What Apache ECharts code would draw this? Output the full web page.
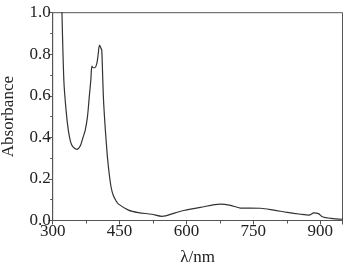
<!DOCTYPE html>
<html>
<head>
<meta charset="utf-8">
<script src="https://cdn.jsdelivr.net/npm/echarts@6/dist/echarts.min.js"></script>
<style>
html,body{margin:0;padding:0;background:#fff;}
#c{width:345px;height:267px;}
</style>
</head>
<body>
<div id="c"></div>
<script>
// Data
var wavelengths = [320, 325, 330, 335, 340, 345, 354, 362, 368, 373, 378, 382, 385.5, 388, 391, 394, 399, 402, 405, 408, 410, 412, 414, 417, 420, 423, 427, 431, 436, 442, 447, 470, 492, 522, 545, 575, 594, 631, 676, 699, 721, 766, 796, 826, 856, 875, 886, 896, 905, 924, 950];
var absorbance  = [1.08, 0.675, 0.53, 0.435, 0.38, 0.355, 0.342, 0.36, 0.40, 0.435, 0.50, 0.595, 0.675, 0.743, 0.735, 0.735, 0.756, 0.80, 0.844, 0.83, 0.82, 0.70, 0.58, 0.47, 0.38, 0.30, 0.22, 0.16, 0.12, 0.095, 0.08, 0.05, 0.038, 0.03, 0.02, 0.037, 0.048, 0.063, 0.079, 0.073, 0.06, 0.059, 0.05, 0.039, 0.03, 0.026, 0.037, 0.033, 0.018, 0.01, 0.006];
var xTicks = [300, 450, 600, 750, 900];
var yTicks = [0.0, 0.2, 0.4, 0.6, 0.8, 1.0];
var xName = 'λ/nm';
var yName = 'Absorbance';

var pts = wavelengths.map(function (w, i) { return [w, absorbance[i]]; });
var font = 'Liberation Serif';
var axisCol = '#555';

var chart = echarts.init(document.getElementById('c'), null, {renderer: 'canvas'});
chart.setOption({
  animation: false,
  backgroundColor: '#fff',
  grid: {left: 52.7, right: 2.5, top: 12.7, bottom: 46.5, show: true, borderColor: axisCol, borderWidth: 1,
         containLabel: false, outerBoundsMode: 'none'},
  xAxis: {
    type: 'value', min: 300, max: 950, interval: 150,
    name: xName, nameLocation: 'middle', nameGap: 29,
    nameTextStyle: {fontFamily: font, fontSize: 17, color: '#222', verticalAlign: 'top'},
    axisLine: {show: true, lineStyle: {color: axisCol, width: 1}},
    axisTick: {show: true, length: 4, lineStyle: {color: axisCol}},
    minorTick: {show: true, splitNumber: 2, length: 3, lineStyle: {color: axisCol}},
    splitLine: {show: false},
    axisLabel: {fontFamily: font, fontSize: 17, color: '#222', margin: 3,
      customValues: xTicks,
      formatter: function (v) { return xTicks.indexOf(v) >= 0 ? String(v) : ''; }}
  },
  yAxis: {
    type: 'value', min: 0, max: 1, interval: 0.2,
    name: yName, nameLocation: 'middle', nameGap: 36,
    nameTextStyle: {fontFamily: font, fontSize: 17, color: '#222'},
    axisLine: {show: true, lineStyle: {color: axisCol, width: 1}},
    axisTick: {show: true, length: 4, lineStyle: {color: axisCol}},
    minorTick: {show: true, splitNumber: 2, length: 2.5, lineStyle: {color: axisCol}},
    splitLine: {show: false},
    axisLabel: {fontFamily: font, fontSize: 17, color: '#222', margin: 2,
      formatter: function (v) { return v.toFixed(1); }}
  },
  series: [{
    type: 'line', data: pts, showSymbol: false, smooth: 0.3, clip: true,
    lineStyle: {color: '#333', width: 1.2}
  }]
});
</script>
</body>
</html>
